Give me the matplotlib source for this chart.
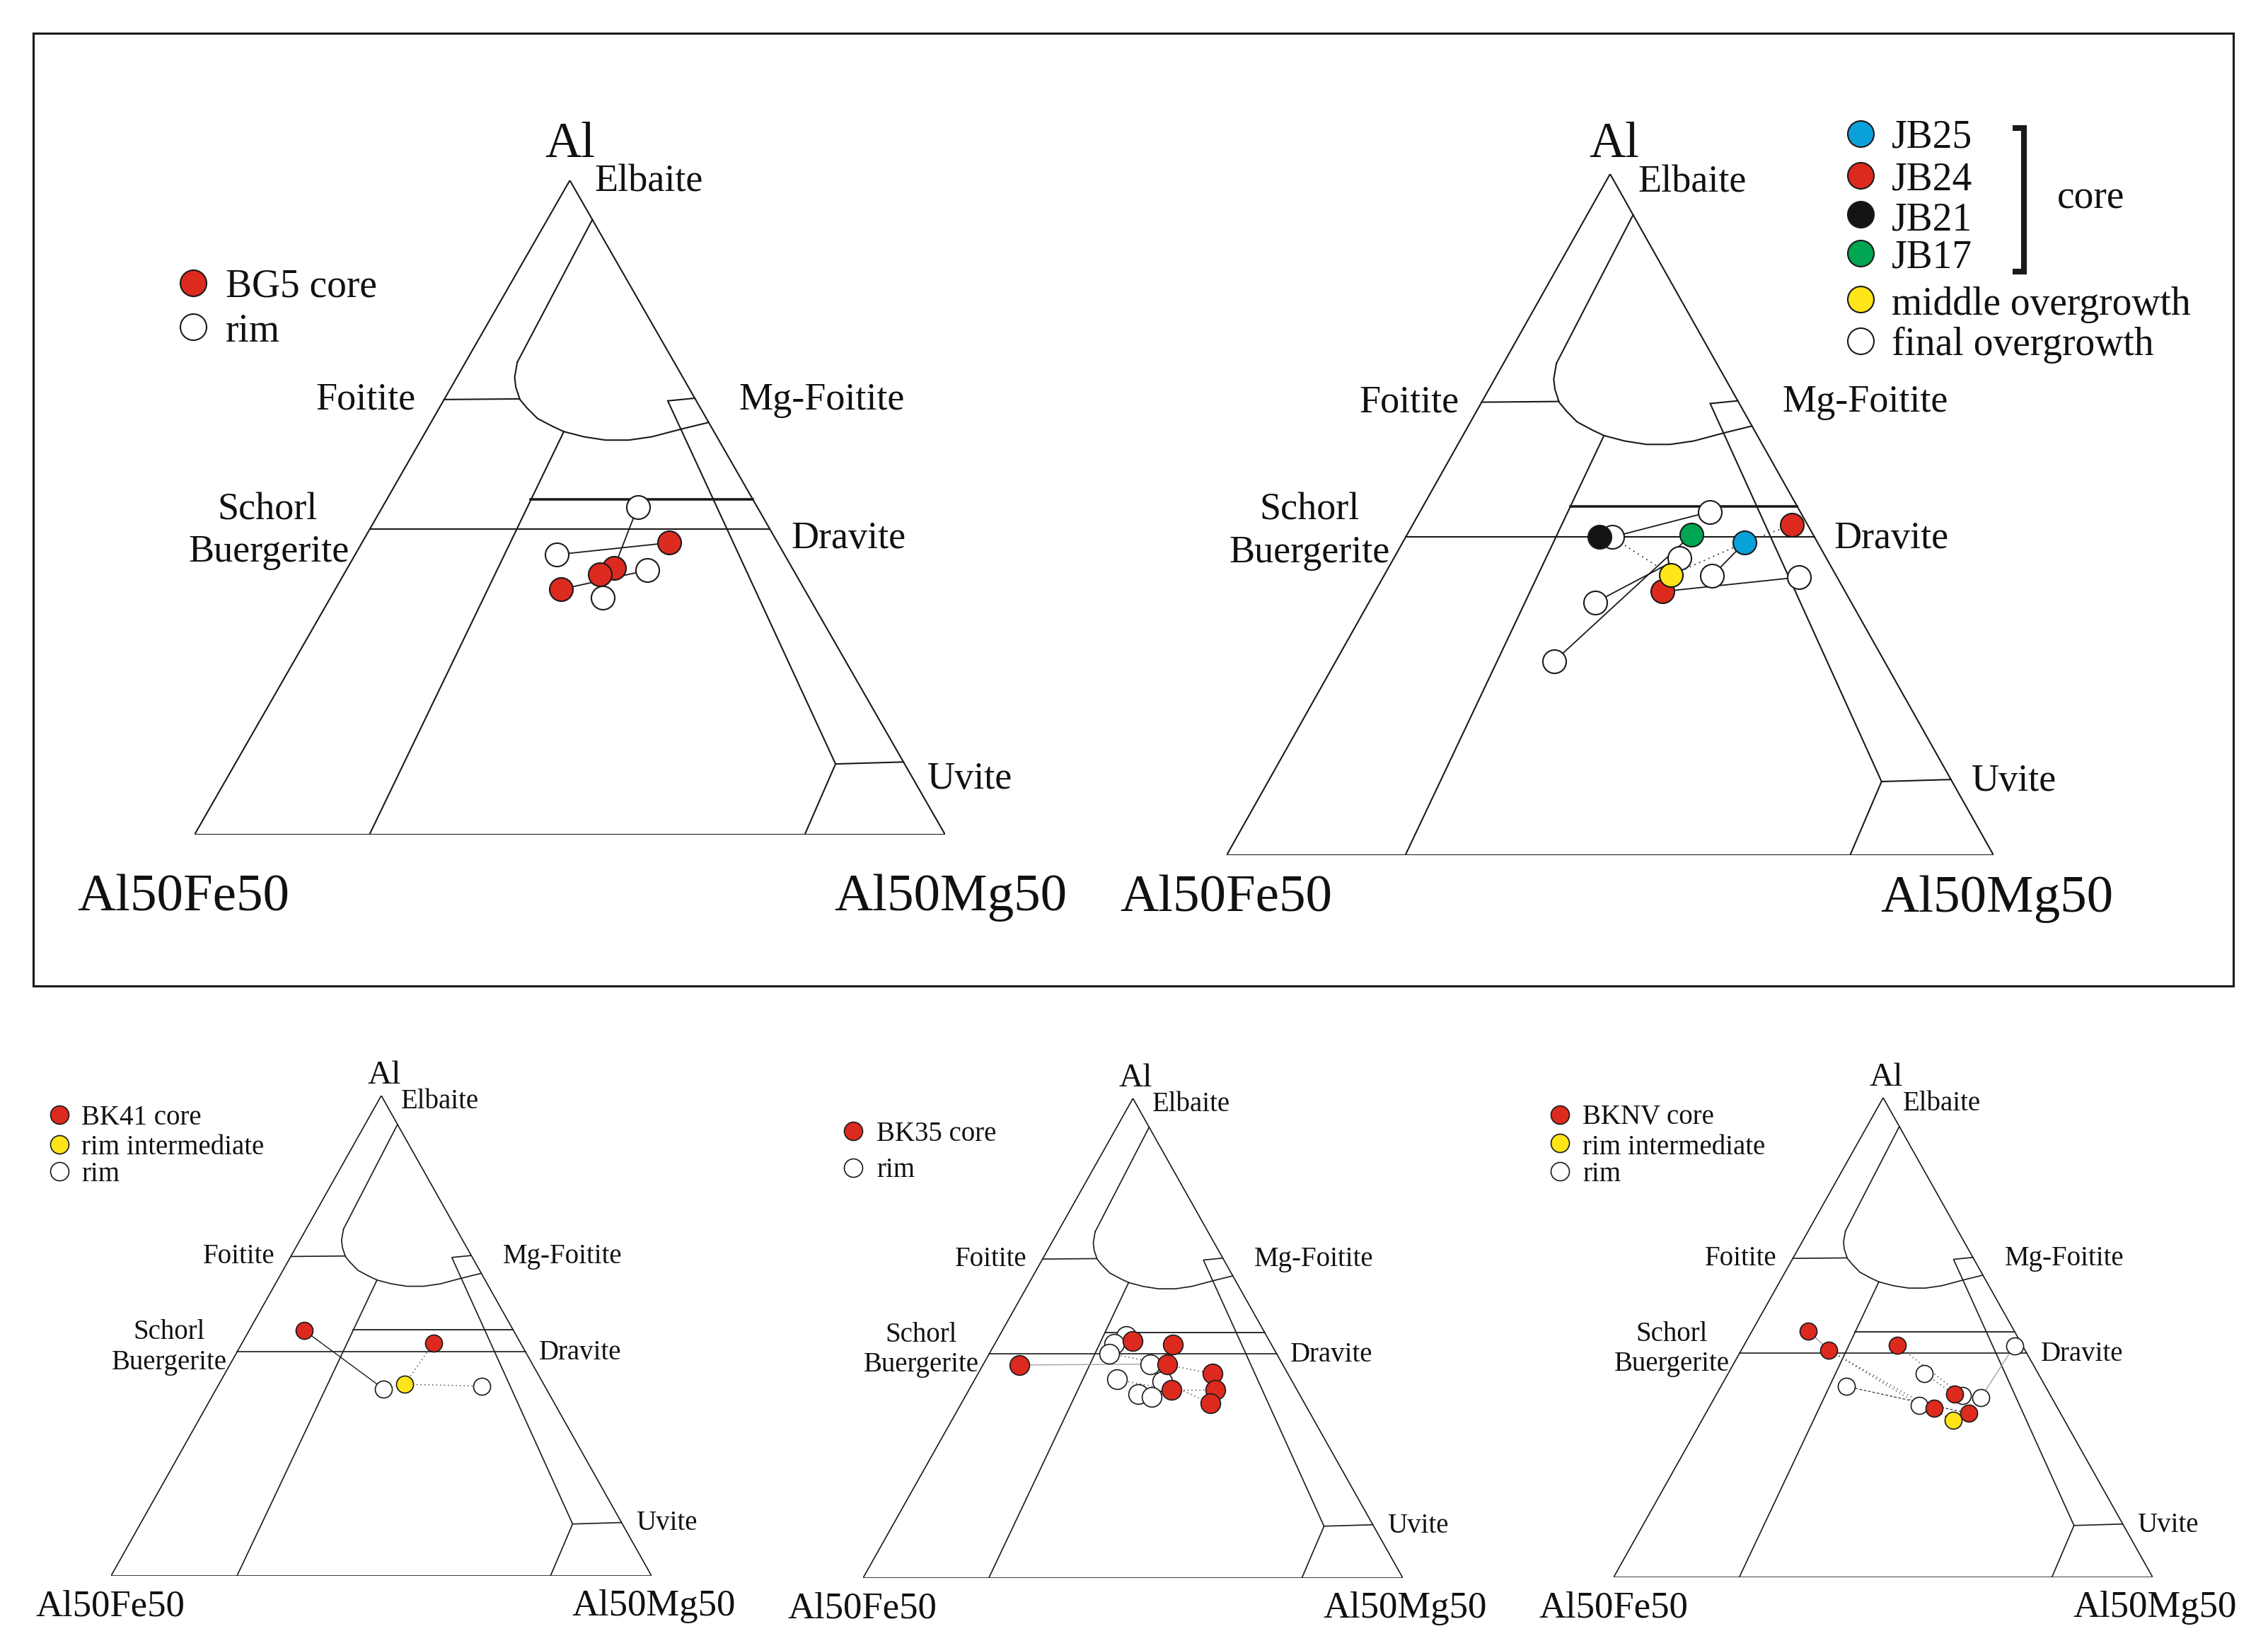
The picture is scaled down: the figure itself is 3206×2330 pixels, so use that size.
import numpy as np
import matplotlib.pyplot as plt
from matplotlib.patches import Rectangle

W, H = 3206, 2330
plt.rcParams['font.family'] = ['Liberation Serif', 'DejaVu Serif']

# Field boundaries of the Al - Al50Fe50 - Al50Mg50 diagram, given as (Al %, Mg %)
outline_al, outline_mg = [100, 0, 0, 100], [0, 0, 100, 0]
li_al, li_mg = [94.0, 72.2], [6.0, 6.9]
elb_al = [72.2, 69.9, 68.4, 66.5, 65.2, 63.6, 62.4, 61.6, 60.8, 60.3, 60.3, 60.8, 62.0, 63.0]
elb_mg = [6.9, 7.7, 8.6, 10.1, 11.7, 13.9, 16.5, 18.4, 21.5, 24.6, 27.7, 30.5, 33.9, 37.0]
foit_al, foit_mg = [66.5, 66.6], [0.0, 10.0]
inner_al, inner_mg = [61.6, 0.0], [18.4, 23.3]
upper_al, upper_mg = [51.2, 51.2], [19.2, 48.8]
drav_al, drav_mg = [46.7, 46.7], [0.0, 53.3]
mgf_al, mgf_mg = [66.7, 66.3, 10.8, 0.0], [33.3, 29.9, 80.0, 81.3]
uv_al, uv_mg = [10.8, 11.1], [80.0, 88.9]

# BG5
bg5_al = [44.6, 40.8, 39.8, 37.5, 42.8, 50.1, 40.4, 36.2]
bg5_fe = [14.5, 23.7, 26.1, 32.4, 30.3, 15.9, 19.5, 27.5]
bg5_mg = [40.9, 35.5, 34.1, 30.1, 26.9, 34.0, 40.1, 36.3]
bg5_kind = ['core'] * 4 + ['rim'] * 4
bg5_ties = [(0, 4, 'solid'), (1, 5, 'solid'), (3, 6, 'solid'), (2, 7, 'solid')]

# JB samples
jb_al = [45.9, 48.5, 38.7, 46.7, 47.0, 41.1, 46.7, 50.4, 43.6, 41.0, 40.8, 37.1, 28.5]
jb_fe = [9.5, 2.0, 23.8, 28.0, 15.9, 21.5, 26.4, 11.8, 19.2, 16.2, 5.0, 33.4, 43.0]
jb_mg = [44.6, 49.5, 37.5, 25.3, 37.1, 37.4, 26.9, 37.8, 37.2, 42.8, 54.2, 29.5, 28.5]
jb_kind = ['JB25', 'JB24', 'JB24', 'JB21', 'JB17', 'mid'] + ['rim'] * 7
jb_ties = [(6, 7, 'solid'), (6, 5, 'dot'), (12, 4, 'solid'), (11, 8, 'solid'),
           (5, 0, 'dot'), (0, 1, 'dot'), (9, 0, 'solid'), (2, 10, 'solid')]

# BK41
bk41_al = [51.1, 48.5, 39.9, 38.9, 39.5]
bk41_fe = [38.7, 16.1, 25.7, 30.1, 11.7]
bk41_mg = [10.2, 35.4, 34.4, 31.0, 48.8]
bk41_kind = ['core', 'core', 'mid', 'rim', 'rim']
bk41_ties = [(0, 3, 'solid'), (1, 2, 'dot'), (2, 4, 'dot')]

# BK35
bk35_al = [44.4, 49.4, 48.6, 44.6, 42.6, 39.2, 39.2, 36.4,
           50.4, 48.8, 46.8, 44.6, 41.4, 41.0, 38.4, 37.8]
bk35_fe = [48.9, 25.4, 18.3, 21.3, 13.9, 15.1, 23.2, 17.4,
           26.1, 29.1, 31.0, 24.5, 32.3, 24.1, 29.8, 27.6]
bk35_mg = [6.7, 25.2, 33.1, 34.1, 43.5, 45.7, 37.6, 46.2,
           23.5, 22.1, 22.2, 30.9, 26.3, 34.9, 31.8, 34.6]
bk35_kind = ['core'] * 8 + ['rim'] * 8
bk35_ties = [(0, 11, 'grey'), (10, 4, 'dot'), (6, 5, 'dot'), (12, 6, 'dot'), (13, 7, 'dot')]

# BKNV
bknv_al = [51.4, 47.4, 48.4, 38.2, 35.2, 34.2, 32.7, 48.3, 42.5, 39.8, 35.9, 37.5, 37.9]
bknv_fe = [38.2, 36.4, 23.2, 17.7, 22.9, 17.0, 20.7, 1.5, 21.2, 36.9, 25.3, 13.1, 16.4]
bknv_mg = [10.4, 16.2, 28.4, 44.1, 41.9, 48.8, 46.6, 50.2, 36.3, 23.3, 38.8, 49.4, 45.7]
bknv_kind = ['core'] * 6 + ['mid'] + ['rim'] * 6
bknv_ties = [(0, 1, 'grey'), (1, 10, 'dot'), (1, 6, 'dot'), (9, 5, 'dash'),
             (2, 12, 'dot'), (8, 3, 'dot'), (7, 11, 'grey')]

colors = {'core': '#dc2a1f', 'rim': 'white', 'mid': '#ffe41a', 'JB25': '#0aa0d8',
          'JB24': '#dc2a1f', 'JB21': '#141414', 'JB17': '#00a552'}
draw_order = ['rim', 'core', 'JB24', 'JB21', 'JB17', 'JB25', 'mid']


def tern(al, fe, mg):
    al, fe, mg = (np.asarray(a, float) for a in (al, fe, mg))
    s = al + fe + mg
    return (mg + al / 2) / s, al / s


def bound(al, mg):
    al, mg = np.asarray(al, float), np.asarray(mg, float)
    return tern(al, 100 - al - mg, mg)


fig = plt.figure(figsize=(W / 100, H / 100), dpi=100)
fig.patches.append(Rectangle((47 / W, 1 - 1394 / H), (3157 - 47) / W, (1394 - 47) / H,
                             transform=fig.transFigure, fill=False, lw=2.2, ec='#1a1a1a'))

default_labels = [('Al', 0.505, 1.025, 'center', 'apex'), ('Elbaite', 0.536, 0.974, 'left', 'f'),
                  ('Foitite', 0.303, 0.651, 'right', 'f'), ('Mg-Foitite', 0.725, 0.651, 'left', 'f'),
                  ('Schorl', 0.108, 0.493, 'center', 'f'), ('Buergerite', 0.108, 0.430, 'center', 'f'),
                  ('Dravite', 0.792, 0.451, 'left', 'f'), ('Uvite', 0.971, 0.095, 'left', 'f'),
                  ('Al50Fe50', -0.139, -0.083, 'left', 'corner'),
                  ('Al50Mg50', 1.156, -0.083, 'right', 'corner')]
tl_labels = [('Al', 0.50, 1.036, 'center', 'apex'), ('Elbaite', 0.533, 0.983, 'left', 'f'),
             ('Foitite', 0.295, 0.650, 'right', 'f'), ('Mg-Foitite', 0.725, 0.650, 'left', 'f'),
             ('Schorl', 0.097, 0.482, 'center', 'f'), ('Buergerite', 0.099, 0.417, 'center', 'f'),
             ('Dravite', 0.795, 0.438, 'left', 'f'), ('Uvite', 0.976, 0.070, 'left', 'f'),
             ('Al50Fe50', -0.156, -0.116, 'left', 'corner'),
             ('Al50Mg50', 1.162, -0.116, 'right', 'corner')]

big = dict(apex=51, f=39, corner=54, legend=40, ms=566, lms=710, lw=1.5, tlw=1.3, mew=1.5)
small = dict(apex=34, f=28, corner=38, legend=28, ms=300, lms=350, lw=1.2, tlw=1.0, mew=1.2)


def panel(box, labels, sz, al, fe, mg, kind, ties, upper_lw):
    x0, x1, yb, ya = box
    ax = fig.add_axes([x0 / W, 1 - yb / H, (x1 - x0) / W, (yb - ya) / H])
    ax.set_xlim(0, 1)
    ax.set_ylim(0, 1)
    ax.axis('off')
    for bal, bmg in [(outline_al, outline_mg), (li_al, li_mg), (elb_al, elb_mg),
                     (foit_al, foit_mg), (inner_al, inner_mg), (drav_al, drav_mg),
                     (mgf_al, mgf_mg), (uv_al, uv_mg)]:
        u, v = bound(bal, bmg)
        ax.plot(u, v, color='#1a1a1a', lw=sz['lw'], solid_joinstyle='miter', zorder=1)
    u, v = bound(upper_al, upper_mg)
    ax.plot(u, v, color='#1a1a1a', lw=upper_lw, zorder=1)

    for s, x, y, ha, role in labels:
        ax.text(x, y, s, ha=ha, va='baseline', fontsize=sz[role], color='#111')

    u, v = tern(al, fe, mg)
    for i, j, st in ties:
        kw = dict(color='#1a1a1a', lw=sz['tlw'])
        if st == 'dot':
            kw.update(ls=(0, (1, 3)), color='#333')
        elif st == 'dash':
            kw.update(ls=(0, (3, 2)), color='#333', lw=sz['tlw'] * 0.9)
        elif st == 'grey':
            kw.update(color='#9a9a9a', lw=sz['tlw'] * 0.9)
        ax.plot([u[i], u[j]], [v[i], v[j]], zorder=2, **kw)
    kind = np.array(kind)
    for k in draw_order:
        m = kind == k
        if m.any():
            ax.scatter(u[m], v[m], s=sz['ms'], c=colors[k], edgecolors='#1a1a1a',
                       linewidths=sz['mew'], zorder=3, clip_on=False)
    return ax


def legend(ax, sz, entries, mu, tu, mv, tv):
    for (k, s), y, yt in zip(entries, mv, tv):
        ax.scatter([mu], [y], s=sz['lms'], c=colors[k], edgecolors='#1a1a1a',
                   linewidths=sz['mew'], clip_on=False, zorder=3)
        ax.text(tu, yt, s, ha='left', va='baseline', fontsize=sz['legend'], color='#111')


# top left: BG5
ax = panel((275, 1336, 1180, 255), tl_labels, big, bg5_al, bg5_fe, bg5_mg, bg5_kind, bg5_ties, 2.6)
legend(ax, big, [('core', 'BG5 core'), ('rim', 'rim')], -0.002, 0.041, [0.843, 0.776], [0.822, 0.754])

# top right: JB
ax = panel((1734, 2818, 1209, 246), default_labels, big, jb_al, jb_fe, jb_mg, jb_kind, jb_ties, 2.6)
legend(ax, big, [('JB25', 'JB25'), ('JB24', 'JB24'), ('JB21', 'JB21'), ('JB17', 'JB17'),
                 ('mid', 'middle overgrowth'), ('rim', 'final overgrowth')],
       0.827, 0.867, [1.059, 0.998, 0.941, 0.884, 0.816, 0.755],
       [1.039, 0.977, 0.917, 0.862, 0.793, 0.734])
ax.plot([1.025, 1.040, 1.040, 1.025], [1.0675, 1.0675, 0.857, 0.857], color='#1a1a1a',
        lw=5.8, solid_joinstyle='miter', solid_capstyle='butt', clip_on=False)
ax.text(1.083, 0.950, 'core', ha='left', va='baseline', fontsize=big['legend'], color='#111')

# bottom row
ax = panel((157, 921, 2228, 1549), default_labels, small, bk41_al, bk41_fe, bk41_mg, bk41_kind, bk41_ties, 1.3)
legend(ax, small, [('core', 'BK41 core'), ('mid', 'rim intermediate'), ('rim', 'rim')],
       -0.0955, -0.055, [0.960, 0.898, 0.842], [0.940, 0.878, 0.822])

sz35 = dict(small, ms=400)
ax = panel((1220, 1983, 2231, 1553), default_labels, sz35, bk35_al, bk35_fe, bk35_mg, bk35_kind, bk35_ties, 1.3)
legend(ax, small, [('core', 'BK35 core'), ('rim', 'rim')], -0.019, 0.025, [0.932, 0.856], [0.912, 0.836])

ax = panel((2281, 3043, 2230, 1552), default_labels, small, bknv_al, bknv_fe, bknv_mg, bknv_kind, bknv_ties, 1.3)
legend(ax, small, [('core', 'BKNV core'), ('mid', 'rim intermediate'), ('rim', 'rim')],
       -0.100, -0.058, [0.964, 0.905, 0.846], [0.945, 0.882, 0.826])

fig.savefig('out.png', dpi=100)
